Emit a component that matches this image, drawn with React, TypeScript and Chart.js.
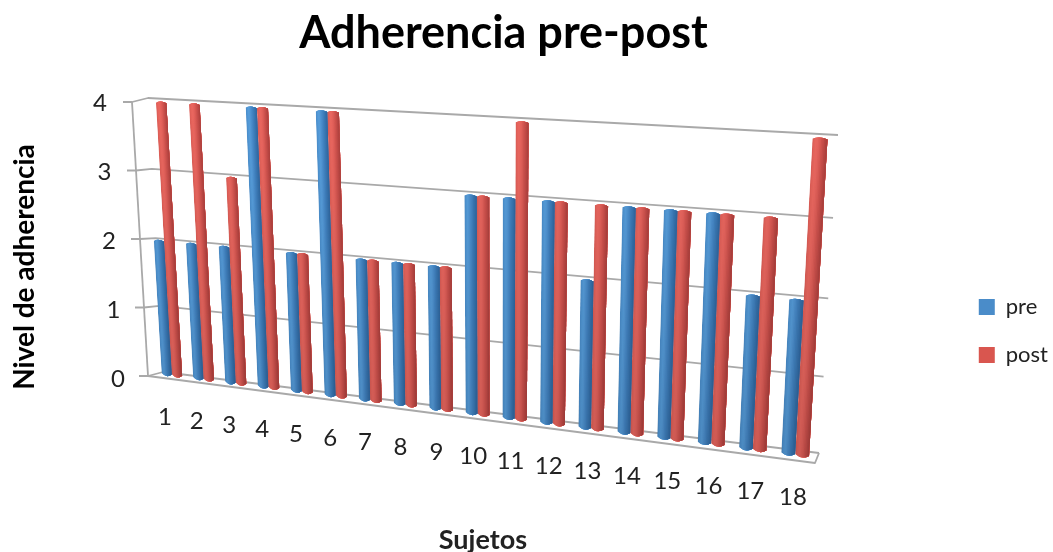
import React, { useEffect, useRef } from "react";
import { Chart, registerables } from "chart.js";

Chart.register(...registerables);

const categories = ["1","2","3","4","5","6","7","8","9","10","11","12","13","14","15","16","17","18"];
const preValues = [2,2,2,4,2,4,2,2,2,3,3,3,2,3,3,3,2,2];
const postValues = [4,4,3,4,2,4,2,2,2,3,4,3,3,3,3,3,3,4];
const yTicks = [0,1,2,3,4];

type P = [number, number];

// projective map of the unit square on a quad: (0,0)=tl (1,0)=tr (1,1)=br (0,1)=bl
function quadMap(tl: P, tr: P, br: P, bl: P) {
  const dx1 = tr[0] - br[0], dx2 = bl[0] - br[0], sx = tl[0] - tr[0] + br[0] - bl[0];
  const dy1 = tr[1] - br[1], dy2 = bl[1] - br[1], sy = tl[1] - tr[1] + br[1] - bl[1];
  const den = dx1 * dy2 - dx2 * dy1;
  const g = (sx * dy2 - dx2 * sy) / den;
  const h = (dx1 * sy - sx * dy1) / den;
  const a = tr[0] - tl[0] + g * tr[0], b = bl[0] - tl[0] + h * bl[0], c = tl[0];
  const d = tr[1] - tl[1] + g * tr[1], e = bl[1] - tl[1] + h * bl[1], f = tl[1];
  return (s: number, t: number): P => {
    const w = g * s + h * t + 1;
    return [(a * s + b * t + c) / w, (d * s + e * t + f) / w];
  };
}

const wall = quadMap([148, 98], [838, 135], [819, 453], [163, 372]);
const sideFront = (t: number): P => [132 + (148 - 132) * t, 102 + (376 - 102) * t];

const redStrips = ["#DE5E57","#E6645C","#EA675F","#E8655E","#E2605A","#DA5A54","#D0534E","#C64D49","#BB4743","#B0423F"];
const blueStrips = ["#4C90CE","#5298D6","#569DDB","#5398D6","#4C8FCE","#4587C6","#3F7FBD","#3A78B4","#3570AB","#3169A2"];

const perspective = {
  id: "perspective",
  afterLayout(chart: any) {
    chart.titleBlock.left -= 23;
    chart.titleBlock.right -= 23;
    const lg = chart.legend;
    lg.left += 5; lg.right += 5;
    lg.top += 55; lg.bottom += 55;
  },
  beforeDatasetsDraw(chart: any) {
    const { ctx, scales } = chart;
    const y = scales.y, x = scales.x;
    const m0 = chart.getDatasetMeta(0).data;
    const m1 = chart.getDatasetMeta(1).data;
    const yTop = y.getPixelForValue(4), yBot = y.getPixelForValue(0);
    const x0 = m1[0].x, x1 = m1[m1.length - 1].x;
    const plane = quadMap([161, 103], [820, 139], [802, 455], [177, 375]);
    const proj = (px: number, py: number): P =>
      plane((px - x0) / (x1 - x0), (py - yTop) / (yBot - yTop));

    // walls and floor
    ctx.save();
    ctx.strokeStyle = "#A9A9A9";
    ctx.lineWidth = 1.8;
    ctx.lineJoin = "round";
    const line = (pts: P[]) => {
      ctx.beginPath();
      pts.forEach((p, i) => (i ? ctx.lineTo(p[0], p[1]) : ctx.moveTo(p[0], p[1])));
      ctx.stroke();
    };
    line([sideFront(0), sideFront(1)]);
    yTicks.forEach((v) => {
      const t = (y.getPixelForValue(v) - yTop) / (yBot - yTop);
      const f = sideFront(t);
      line([[f[0] - 9, f[1]], f, wall(0, t), wall(1, t)]);
    });
    line([sideFront(1), [815, 463], wall(1, 1)]);

    // tick labels
    ctx.fillStyle = "#222222";
    ctx.font = "24px Lato";
    ctx.textAlign = "center";
    ctx.textBaseline = "middle";
    yTicks.forEach((v) => {
      const t = (y.getPixelForValue(v) - yTop) / (yBot - yTop);
      ctx.fillText(String(v), 118 - 18 * (1 - t), 103.5 + (379.5 - 103.5) * t);
    });
    categories.forEach((c, i) => {
      const p = proj(x.getPixelForValue(i), yBot);
      const k = i / (categories.length - 1);
      ctx.fillText(c, p[0] - 7 + 5 * k, p[1] + 43);
    });
    ctx.restore();

    // bars
    const drawBar = (el: any, strips: string[]) => {
      const l = el.x - el.width / 2, r = el.x + el.width / 2;
      const tl = proj(l, el.y), tr = proj(r, el.y), bl = proj(l, el.base), br = proj(r, el.base);
      const ctr = (a: P, b: P, dy: number): P => [(a[0] + b[0]) / 2, (a[1] + b[1]) / 2 + dy];
      const bc = ctr(bl, br, 5), tc = ctr(tl, tr, -3);
      ctx.save();
      ctx.beginPath();
      ctx.moveTo(tl[0], tl[1]);
      ctx.lineTo(bl[0], bl[1]);
      ctx.quadraticCurveTo(bc[0], bc[1], br[0], br[1]);
      ctx.lineTo(tr[0], tr[1]);
      ctx.quadraticCurveTo(tc[0], tc[1], tl[0], tl[1]);
      ctx.closePath();
      ctx.clip();
      const n = strips.length;
      for (let i = 0; i < n; i++) {
        const s = i / n;
        const a: P = [tl[0] + (tr[0] - tl[0]) * s, tl[1] + (tr[1] - tl[1]) * s];
        const b: P = [bl[0] + (br[0] - bl[0]) * s, bl[1] + (br[1] - bl[1]) * s];
        ctx.fillStyle = strips[i];
        ctx.beginPath();
        ctx.moveTo(a[0], a[1] - 6);
        ctx.lineTo(b[0], b[1] + 6);
        ctx.lineTo(br[0] + 6, br[1] + 6);
        ctx.lineTo(tr[0] + 6, tr[1] - 6);
        ctx.closePath();
        ctx.fill();
      }
      const g = ctx.createLinearGradient(0, 100, 0, 460);
      g.addColorStop(0, "rgba(0,0,0,0)");
      g.addColorStop(1, "rgba(0,0,0,0.12)");
      ctx.fillStyle = g;
      ctx.fillRect(0, 0, chart.width, chart.height);
      ctx.restore();
    };
    m0.forEach((el: any, i: number) => {
      drawBar(el, blueStrips);
      drawBar(m1[i], redStrips);
    });
  },
  beforeDatasetDraw() {
    return false;
  },
};

export default function App() {
  const ref = useRef<HTMLCanvasElement | null>(null);
  useEffect(() => {
    document.body.style.margin = "0";
    const chart = new Chart(ref.current as HTMLCanvasElement, {
      type: "bar",
      data: {
        labels: categories,
        datasets: [
          { label: "pre", data: preValues, backgroundColor: "#4A8CC9", borderWidth: 0 },
          { label: "post", data: postValues, backgroundColor: "#D9564F", borderWidth: 0 },
        ],
      },
      options: {
        responsive: false,
        animation: false,
        datasets: { bar: { categoryPercentage: 0.65, barPercentage: 1 } },
        layout: { padding: 0 },
        plugins: {
          title: {
            display: true,
            text: "Adherencia pre-post",
            color: "#000000",
            font: { family: "Lato", size: 45, weight: "bold", lineHeight: 1.2 },
            padding: { top: 6, bottom: 6 },
          },
          legend: {
            display: true,
            position: "right",
            labels: {
              boxWidth: 16,
              boxHeight: 16,
              padding: 26,
              color: "#222222",
              font: { family: "Lato", size: 22, lineHeight: 1.13 },
            },
          },
          tooltip: { enabled: false },
        },
        scales: {
          x: {
            grid: { display: false },
            border: { display: false },
            ticks: { display: false },
            title: {
              display: true,
              text: "Sujetos",
              color: "#222222",
              font: { family: "Lato", size: 27, weight: "bold", lineHeight: 0.9 },
              padding: { top: 0, bottom: 0 },
            },
            afterFit: (s: any) => { s.height = 84; },
          },
          y: {
            min: 0,
            max: 4,
            grid: { display: false },
            border: { display: false },
            ticks: { display: false, stepSize: 1 },
            title: {
              display: true,
              text: "Nivel de adherencia",
              color: "#000000",
              font: { family: "Lato", size: 28, weight: "bold", lineHeight: 1.2 },
              padding: { top: 8, bottom: 0 },
            },
            afterFit: (s: any) => { s.width = 18; },
          },
        },
      },
      plugins: [perspective],
    } as any);
    return () => chart.destroy();
  }, []);
  return (
    <div style={{ width: 1053, height: 552 }}>
      <canvas ref={ref} width={1053} height={552} style={{ display: "block" }} />
    </div>
  );
}
